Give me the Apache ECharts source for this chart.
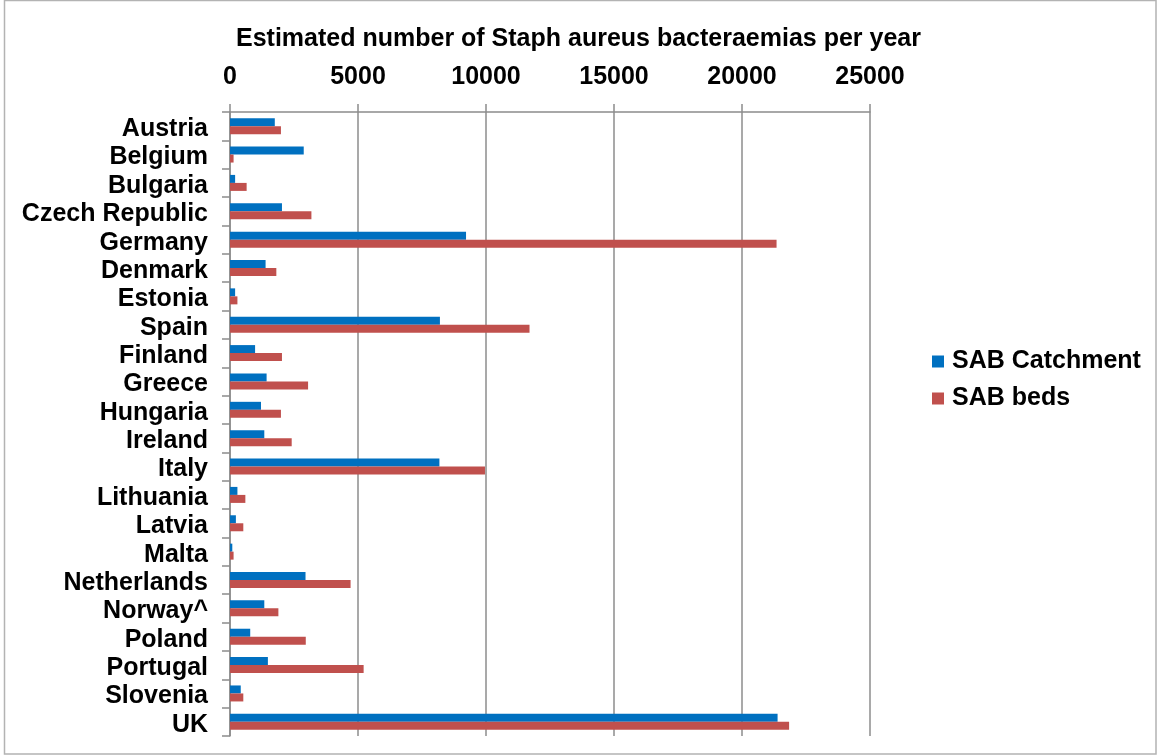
<!DOCTYPE html>
<html>
<head>
<meta charset="utf-8">
<script src="https://cdn.jsdelivr.net/npm/echarts@6/dist/echarts.min.js"></script>
<style>
  html, body { margin: 0; padding: 0; background: #ffffff; }
  #chart { width: 1157px; height: 755px; }
</style>
</head>
<body>
<div id="chart"></div>
<script>
// Estimated Staph aureus bacteraemias per year, by country
const countries = [
  'Austria', 'Belgium', 'Bulgaria', 'Czech Republic', 'Germany', 'Denmark',
  'Estonia', 'Spain', 'Finland', 'Greece', 'Hungaria', 'Ireland', 'Italy',
  'Lithuania', 'Latvia', 'Malta', 'Netherlands', 'Norway^', 'Poland',
  'Portugal', 'Slovenia', 'UK'
];
const sabCatchment = [
  1750, 2880, 200, 2030, 9220, 1390, 200, 8200, 980, 1430, 1210, 1340,
  8180, 290, 230, 90, 2950, 1340, 790, 1480, 420, 21390
];
const sabBeds = [
  1990, 140, 650, 3180, 21350, 1810, 290, 11700, 2030, 3050, 1990, 2410,
  9960, 600, 520, 140, 4710, 1890, 2960, 5220, 520, 21840
];
const xTicks = { min: 0, max: 25000, step: 5000 };

const FONT = '"Liberation Sans", Arial, sans-serif';
const GREY = '#8c8c8c';

const chart = echarts.init(document.getElementById('chart'), null, { renderer: 'canvas' });
chart.setOption({
  animation: false,
  backgroundColor: '#ffffff',
  title: {
    text: 'Estimated number of Staph aureus bacteraemias per year',
    left: 'center',
    top: 27,
    padding: 0,
    textStyle: { fontFamily: FONT, fontSize: 25, fontWeight: 'bold', color: '#000' }
  },
  legend: {
    orient: 'vertical',
    left: 932,
    top: 349,
    padding: 0,
    itemWidth: 12,
    itemHeight: 12,
    itemGap: 12,
    icon: 'rect',
    data: ['SAB Catchment', 'SAB beds'],
    textStyle: { fontFamily: FONT, fontSize: 25, fontWeight: 'bold', color: '#000', padding: [0, 0, 0, 3] }
  },
  grid: { left: 230, right: 287, top: 112, bottom: 19, containLabel: false },
  xAxis: {
    type: 'value',
    position: 'top',
    min: xTicks.min,
    max: xTicks.max,
    interval: xTicks.step,
    axisLine: { show: true, lineStyle: { color: GREY, width: 1.5 } },
    axisTick: { show: true, length: 8, lineStyle: { color: GREY, width: 1.5 } },
    splitLine: { show: true, lineStyle: { color: GREY, width: 1.5 } },
    axisLabel: {
      margin: 22,
      fontFamily: FONT, fontSize: 25, fontWeight: 'bold', color: '#000',
      formatter: (v) => String(v)
    }
  },
  yAxis: {
    type: 'category',
    data: countries,
    inverse: true,
    axisLine: { show: true, lineStyle: { color: GREY, width: 1.5 } },
    axisTick: { show: true, length: 8, lineStyle: { color: GREY, width: 1.5 } },
    axisLabel: {
      margin: 22, interval: 0,
      formatter: (name) => '{c|' + name + '}',
      rich: {
        c: {
          padding: [6, 0, 0, 0],
          fontFamily: FONT, fontSize: 25, fontWeight: 'bold', color: '#000'
        }
      }
    }
  },
  series: [
    {
      name: 'SAB Catchment',
      type: 'bar',
      data: sabCatchment,
      barWidth: 8,
      barGap: '0%',
      itemStyle: { color: '#0070C0' }
    },
    {
      name: 'SAB beds',
      type: 'bar',
      data: sabBeds,
      barWidth: 8,
      barGap: '0%',
      itemStyle: { color: '#C0504D' }
    }
  ],
  graphic: [
    {
      type: 'rect',
      shape: { x: 4.5, y: 0.5, width: 1151.5, height: 753.5 },
      style: { fill: 'none', stroke: '#b3b3b3', lineWidth: 1.5 },
      silent: true
    }
  ]
});
</script>
</body>
</html>
